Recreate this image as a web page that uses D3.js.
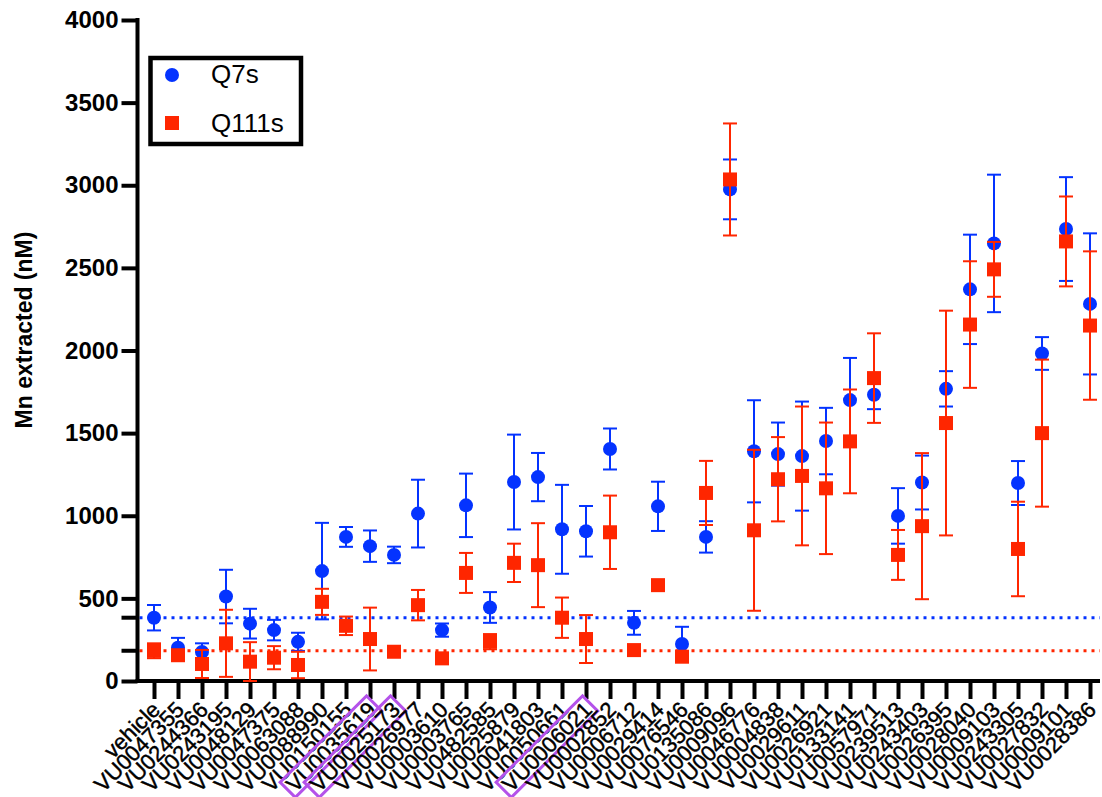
<!DOCTYPE html>
<html>
<head>
<meta charset="utf-8">
<script src="https://cdn.jsdelivr.net/npm/d3@7"></script>
<style>
  html, body { margin: 0; padding: 0; background: #fff; }
  svg { display: block; font-family: "Liberation Sans", Arial, Helvetica, sans-serif; }
</style>
</head>
<body>
<svg id="chart" width="1102" height="797"></svg>
<script>
// Compounds tested, in plotted order
const compounds = [
  "vehicle", "VU0047355", "VU0244366", "VU0243195", "VU0048129", "VU0047375",
  "VU0063088", "VU0088990", "VU0150155", "VU0035619", "VU0025173", "VU0026977",
  "VU0003610", "VU0003765", "VU0482585", "VU0025879", "VU0041803", "VU0050661",
  "VU0006021", "VU0002852", "VU0006712", "VU0029414", "VU0076546", "VU0135086",
  "VU0009096", "VU0046776", "VU0004838", "VU0029611", "VU0026921", "VU0133141",
  "VU0057971", "VU0239513", "VU0243403", "VU0026395", "VU0028040", "VU0009103",
  "VU0243305", "VU0027832", "VU0009101", "VU0028386"
];

// Mn extracted (nM), mean and error for each cell line
const q7sMean = [
  383, 201, 176, 511, 347, 308, 237, 665, 872, 816, 763, 1013,
  308, 1063, 445, 1204, 1234, 918, 906, 1404, 352, 1057, 224, 872,
  2975, 1390, 1373, 1361, 1452, 1700, 1732, 999, 1201, 1768, 2370, 2648,
  1198, 1982, 2735, 2282
];
const q7sErr = [
  77, 60, 52, 162, 90, 62, 55, 292, 60, 95, 50, 205,
  40, 192, 93, 287, 146, 269, 153, 124, 72, 149, 104, 95,
  181, 309, 191, 330, 201, 255, 87, 168, 163, 107, 331, 416,
  133, 99, 314, 427
];
const q111sMean = [
  183, 156, 103, 228, 117, 141, 97, 479, 334, 254, 177, 459,
  137, 654, 238, 715, 701, 383, 254, 900, 187, 580, 147, 1138,
  3035, 912, 1221, 1241, 1166, 1450, 1833, 763, 937, 1561, 2157, 2491,
  799, 1500, 2660, 2151
];
const q111sErr = [
  45, 20, 85, 203, 118, 70, 80, 79, 56, 190, 15, 92,
  20, 121, 46, 116, 254, 122, 145, 222, 15, 20, 15, 194,
  339, 487, 255, 420, 398, 314, 271, 151, 442, 680, 383, 166,
  286, 445, 272, 449
];

// Compounds highlighted with a frame around their label
const highlighted = ["VU0035619", "VU0025173", "VU0006021"];

const yTicks = [0, 500, 1000, 1500, 2000, 2500, 3000, 3500, 4000];
const seriesNames = ["Q7s", "Q111s"];

const BLUE = "#0433ff";
const RED = "#ff2600";
const PURPLE = "#b452ea";

const svg = d3.select("#chart");

const axisX = 137.5, axisY = 681;
const x = d3.scalePoint().domain(compounds).range([154, 1090]);
const y = d3.scaleLinear().domain([0, 4000]).range([681, 20]);

// Reference levels: vehicle means for each line
const refs = [
  { v: q7sMean[0], color: BLUE },
  { v: q111sMean[0], color: RED }
];

const refG = svg.append("g");
refs.forEach(r => {
  refG.append("line")
    .attr("x1", axisX + 2).attr("x2", 1100)
    .attr("y1", y(r.v)).attr("y2", y(r.v))
    .attr("stroke", r.color).attr("stroke-width", 3)
    .attr("stroke-dasharray", "3 5");
});

// Y axis
const yAxis = d3.axisLeft(y).tickValues(yTicks).tickFormat(d3.format("d"))
  .tickSize(16).tickSizeOuter(0).tickPadding(3);
const gy = svg.append("g").attr("transform", `translate(${axisX},0)`).call(yAxis);
gy.select(".domain").remove();
gy.selectAll(".tick line").attr("stroke", "#000").attr("stroke-width", 4);
gy.selectAll(".tick text")
  .attr("font-size", 24).attr("font-weight", "bold").attr("fill", "#000")
  .attr("font-family", "'Liberation Sans', Arial, sans-serif");

// Extra ticks marking the reference levels
refs.forEach(r => {
  svg.append("line")
    .attr("x1", axisX - 16).attr("x2", axisX)
    .attr("y1", y(r.v)).attr("y2", y(r.v))
    .attr("stroke", "#000").attr("stroke-width", 4);
});

// X axis
const labelTransform = "translate(7,30) rotate(-45)";
const xAxis = d3.axisBottom(x).tickSize(18).tickSizeOuter(0);
const gx = svg.append("g").attr("transform", `translate(0,${axisY})`).call(xAxis);
gx.select(".domain").remove();
gx.selectAll(".tick line").attr("stroke", "#000").attr("stroke-width", 4);
gx.selectAll(".tick text")
  .attr("x", 0).attr("y", 0).attr("dy", 0)
  .attr("text-anchor", "end")
  .attr("font-size", 22).attr("fill", "#000")
  .attr("stroke", "#000").attr("stroke-width", 0.45)
  .attr("font-family", "'Liberation Sans', Arial, sans-serif")
  .attr("transform", labelTransform);

// Frames around highlighted compound labels
gx.selectAll(".tick").each(function(d) {
  if (!highlighted.includes(d)) return;
  const t = d3.select(this).select("text");
  const bb = t.node().getBBox();
  d3.select(this).insert("rect", "text")
    .attr("x", bb.x - 3).attr("y", -18.5)
    .attr("width", bb.width + 6).attr("height", 21.5)
    .attr("fill", "none").attr("stroke", PURPLE).attr("stroke-width", 3)
    .attr("transform", labelTransform);
});

// Axis lines
svg.append("line").attr("x1", axisX).attr("x2", axisX).attr("y1", 18).attr("y2", axisY + 2)
  .attr("stroke", "#000").attr("stroke-width", 4);
svg.append("line").attr("x1", axisX - 2).attr("x2", 1100).attr("y1", axisY).attr("y2", axisY)
  .attr("stroke", "#000").attr("stroke-width", 4);

// Y axis title
svg.append("text")
  .attr("transform", "translate(32,330) rotate(-90)")
  .attr("text-anchor", "middle")
  .attr("font-size", 23).attr("font-weight", "bold").attr("fill", "#000")
  .text("Mn extracted (nM)");

// Error bars and markers
function drawSeries(means, errs, color, shape) {
  const g = svg.append("g");
  const capW = 7;
  compounds.forEach((c, i) => {
    const cx = x(c), m = means[i], e = errs[i];
    const eb = g.append("g").attr("stroke", color).attr("stroke-width", 2);
    eb.append("line").attr("x1", cx).attr("x2", cx).attr("y1", y(m + e)).attr("y2", y(Math.max(0, m - e)));
    eb.append("line").attr("x1", cx - capW).attr("x2", cx + capW).attr("y1", y(m + e)).attr("y2", y(m + e));
    eb.append("line").attr("x1", cx - capW).attr("x2", cx + capW)
      .attr("y1", y(Math.max(0, m - e))).attr("y2", y(Math.max(0, m - e)));
  });
  compounds.forEach((c, i) => {
    const cx = x(c), cy = y(means[i]);
    if (shape === "circle") {
      g.append("circle").attr("cx", cx).attr("cy", cy).attr("r", 7).attr("fill", color);
    } else {
      g.append("rect").attr("x", cx - 7).attr("y", cy - 7).attr("width", 14).attr("height", 14).attr("fill", color);
    }
  });
}
drawSeries(q7sMean, q7sErr, BLUE, "circle");
drawSeries(q111sMean, q111sErr, RED, "square");

// Legend
const lg = svg.append("g");
lg.append("rect").attr("x", 150.5).attr("y", 58).attr("width", 150.5).attr("height", 86)
  .attr("fill", "#fff").attr("stroke", "#000").attr("stroke-width", 4.5);
lg.append("circle").attr("cx", 172).attr("cy", 75).attr("r", 7).attr("fill", BLUE);
lg.append("rect").attr("x", 165).attr("y", 116).attr("width", 14).attr("height", 14).attr("fill", RED);
lg.append("text").attr("x", 211).attr("y", 83).attr("font-size", 26).attr("fill", "#000").text(seriesNames[0]);
lg.append("text").attr("x", 211).attr("y", 131.5).attr("font-size", 26).attr("fill", "#000").text(seriesNames[1]);
</script>
</body>
</html>
